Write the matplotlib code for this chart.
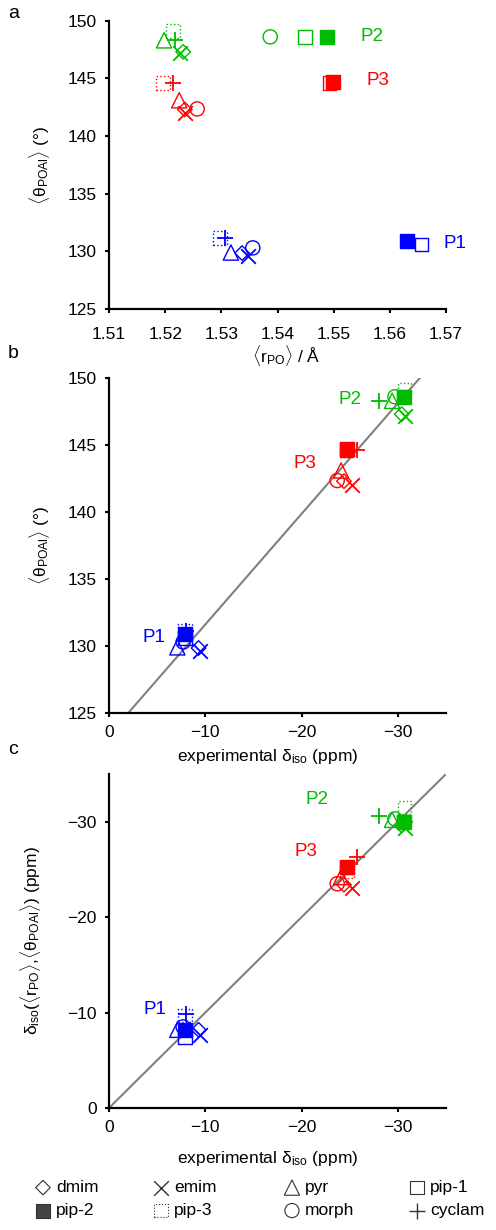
"""Three-panel P-site geometry / shift correlation figure, written to out.png."""
import matplotlib
matplotlib.use("Agg")
import matplotlib.pyplot as plt

plt.rcParams.update({
    "font.family": ["Liberation Sans", "DejaVu Sans"],
    "mathtext.fontset": "custom",
    "mathtext.rm": "Liberation Sans",
    "mathtext.it": "Liberation Sans:italic",
    "mathtext.bf": "Liberation Sans:bold",
    "font.size": 12.5,
})

# ---- data: one value per system, same order everywhere ----
systems = ["dmim", "emim", "pyr", "pip-1", "pip-2", "pip-3", "morph", "cyclam"]

# mean P-O distance (Å)
r_P1 = [1.5337, 1.5347, 1.5317, 1.5656, 1.5631, 1.5298, 1.5356, 1.5307]
r_P2 = [1.5232, 1.5226, 1.5198, 1.5449, 1.5488, 1.5214, 1.5387, 1.5218]
r_P3 = [1.5235, 1.5235, 1.5225, 1.5492, 1.5499, 1.5196, 1.5257, 1.5214]
# mean P-O-Al angle (deg)
th_P1 = [129.85, 129.6, 129.9, 130.6, 130.9, 131.15, 130.3, 131.15]
th_P2 = [147.3, 147.2, 148.3, 148.6, 148.6, 149.1, 148.6, 148.3]
th_P3 = [142.3, 142.0, 143.1, 144.6, 144.7, 144.6, 142.35, 144.6]
# experimental isotropic shift (ppm)
exp_P1 = [-9.3, -9.4, -7.1, -7.9, -7.9, -7.9, -7.7, -8.0]
exp_P2 = [-30.4, -30.7, -29.4, -30.6, -30.6, -30.7, -29.7, -28.0]
exp_P3 = [-24.4, -25.2, -24.1, -24.7, -24.7, -24.7, -23.7, -25.8]
# shift predicted from <r_PO>, <theta_POAl> (ppm)
calc_P1 = [-8.2, -7.7, -8.2, -7.4, -8.2, -9.7, -8.5, -9.9]
calc_P2 = [-29.6, -29.3, -30.2, -30.0, -30.0, -31.5, -30.3, -30.6]
calc_P3 = [-23.4, -23.1, -24.2, -25.2, -25.3, -24.8, -23.5, -26.3]

# linear angle-vs-shift fit shown in panel b: theta = fit_b0 + fit_b1 * delta
fit_b0, fit_b1 = 123.35, -0.8256
fit_x = [0.0, -35.0]

BLUE, GREEN, RED = "#0000ff", "#00bb00", "#ff0000"
sites = [("P1", BLUE), ("P2", GREEN), ("P3", RED)]

# marker look per system: marker, filled, linestyle, size (pt), edge width
mk_style = {
    "dmim":   ("D", False, "-", 7.4, 1.0),
    "emim":   ("x", False, "-", 10.5, 1.3),
    "pyr":    ("^", False, "-", 11.0, 1.0),
    "pip-1":  ("s", False, "-", 9.6, 1.0),
    "pip-2":  ("s", True,  "-", 9.6, 1.0),
    "pip-3":  ("s", False, ":", 9.8, 1.0),
    "morph":  ("o", False, "-", 10.2, 1.0),
    "cyclam": ("+", False, "-", 11.0, 1.3),
}

W, H = 496, 1230
fig = plt.figure(figsize=(W / 100, H / 100), dpi=100)
fig.patch.set_facecolor("white")


def box(l, t, r, b):
    return [l / W, 1 - b / H, (r - l) / W, (b - t) / H]


def style(ax, xpad):
    for s in ("top", "right"):
        ax.spines[s].set_visible(False)
    for s in ("left", "bottom"):
        ax.spines[s].set_linewidth(1.6)
    ax.tick_params(direction="out", length=3, width=1.5, labelsize=12.5, pad=5.8)
    ax.tick_params(axis="x", pad=xpad)


def scatter_sites(ax, xs, ys, color):
    for i, name in enumerate(systems):
        mk, filled, ls, ms, lw = mk_style[name]
        z = 3.0 if filled else (3.1 if mk == "+" else 2.5)
        if mk in ("x", "+"):
            ax.scatter([xs[i]], [ys[i]], marker=mk, s=ms ** 2, color=color,
                       linewidths=lw, zorder=z, clip_on=False)
        else:
            ax.scatter([xs[i]], [ys[i]], marker=mk, s=ms ** 2,
                       facecolors=color if filled else "none", edgecolors=color,
                       linewidths=lw, linestyles=ls, zorder=z, clip_on=False)


def set_labels(ax, xl, yl, xc, yc):
    ax.set_xlabel(xl, fontsize=12.5)
    ax.set_ylabel(yl, fontsize=12.5)
    ax.xaxis.set_label_coords(*xc)
    ax.xaxis.label.set_va("center")
    ax.yaxis.set_label_coords(*yc)
    ax.yaxis.label.set_va("center")


ylab_th = r"$\langle\mathrm{\theta}_{\mathrm{POAl}}\rangle$ (°)"
xlab_exp = r"experimental δ$_{\mathrm{iso}}$ (ppm)"

# ---- a: angle vs distance ----
ax_a = fig.add_axes(box(109, 20.7, 446, 309))
for (lab, col), xs, ys in zip(sites, [r_P1, r_P2, r_P3], [th_P1, th_P2, th_P3]):
    scatter_sites(ax_a, xs, ys, col)
ax_a.set_xlim(1.51, 1.57)
ax_a.set_ylim(125, 150)
ax_a.set_xticks([1.51, 1.52, 1.53, 1.54, 1.55, 1.56, 1.57])
ax_a.set_xticklabels(["1.51", "1.52", "1.53", "1.54", "1.55", "1.56", "1.57"])
ax_a.set_yticks([125, 130, 135, 140, 145, 150])
style(ax_a, 10)
set_labels(ax_a, r"$\langle\mathrm{r}_{\mathrm{PO}}\rangle$ / Å", ylab_th,
           (0.525, -0.163), (-0.205, 0.5))
ax_a.text(1.5547, 148.6, "P2", color=GREEN, fontsize=13.5, va="center")
ax_a.text(1.5558, 144.8, "P3", color=RED, fontsize=13.5, va="center")
ax_a.text(1.5695, 130.7, "P1", color=BLUE, fontsize=13.5, va="center")

# ---- b: angle vs experimental shift ----
ax_b = fig.add_axes(box(109, 378, 446, 713))
ax_b.plot(fit_x, [fit_b0 + fit_b1 * x for x in fit_x], color="#808080", lw=1.5, zorder=1)
for (lab, col), xs, ys in zip(sites, [exp_P1, exp_P2, exp_P3], [th_P1, th_P2, th_P3]):
    scatter_sites(ax_b, xs, ys, col)
ax_b.set_xlim(0, -35)
ax_b.set_ylim(125, 150)
ax_b.set_xticks([0, -10, -20, -30])
ax_b.set_yticks([125, 130, 135, 140, 145, 150])
style(ax_b, 5.8)
set_labels(ax_b, xlab_exp, ylab_th, (0.472, -0.131), (-0.205, 0.5))
ax_b.text(-23.8, 148.4, "P2", color=GREEN, fontsize=13.5, va="center")
ax_b.text(-19.2, 143.65, "P3", color=RED, fontsize=13.5, va="center")
ax_b.text(-3.5, 130.6, "P1", color=BLUE, fontsize=13.5, va="center")

# ---- c: predicted vs experimental shift ----
ax_c = fig.add_axes(box(109, 774, 446, 1108))
ax_c.plot([0, -35], [0, -35], color="#808080", lw=1.5, zorder=1)
for (lab, col), xs, ys in zip(sites, [exp_P1, exp_P2, exp_P3], [calc_P1, calc_P2, calc_P3]):
    scatter_sites(ax_c, xs, ys, col)
ax_c.set_xlim(0, -35)
ax_c.set_ylim(0, -35)
ax_c.set_xticks([0, -10, -20, -30])
ax_c.set_yticks([0, -10, -20, -30])
style(ax_c, 5.8)
set_labels(ax_c, xlab_exp,
           r"δ$_{\mathrm{iso}}$($\langle\mathrm{r}_{\mathrm{PO}}\rangle$,"
           r"$\langle\mathrm{\theta}_{\mathrm{POAl}}\rangle$) (ppm)",
           (0.472, -0.150), (-0.234, 0.5))
ax_c.text(-20.4, -32.3, "P2", color=GREEN, fontsize=13.5, va="center")
ax_c.text(-19.3, -26.9, "P3", color=RED, fontsize=13.5, va="center")
ax_c.text(-3.6, -10.3, "P1", color=BLUE, fontsize=13.5, va="center")

# panel letters
for t, y in (("a", 14), ("b", 354), ("c", 750)):
    fig.text(8 / W, 1 - y / H, t, fontsize=14, va="center", ha="left")

# ---- legend: four columns of two entries ----
handles = {}
for name in systems:
    mk, filled, ls, ms, lw = mk_style[name]
    if mk in ("x", "+"):
        handles[name] = ax_c.scatter([], [], marker=mk, s=ms ** 2, color="#333333",
                                     linewidths=1.0)
    else:
        handles[name] = ax_c.scatter([], [], marker=mk, s=ms ** 2,
                                     facecolors="#444444" if filled else "none",
                                     edgecolors="#333333", linewidths=0.8,
                                     linestyles=ls)
col_x = [36, 154, 285, 410]
for j, x0 in enumerate(col_x):
    names = [systems[j], systems[j + 4]]
    fig.legend([handles[n] for n in names], names, loc="upper left",
               bbox_to_anchor=(x0 / W, 1 - 1180 / H), frameon=False,
               fontsize=12.5, scatterpoints=1, handlelength=0.8,
               handletextpad=0.35, borderpad=0, borderaxespad=0,
               labelspacing=0.45)

fig.savefig("out.png", dpi=100, facecolor="white")
